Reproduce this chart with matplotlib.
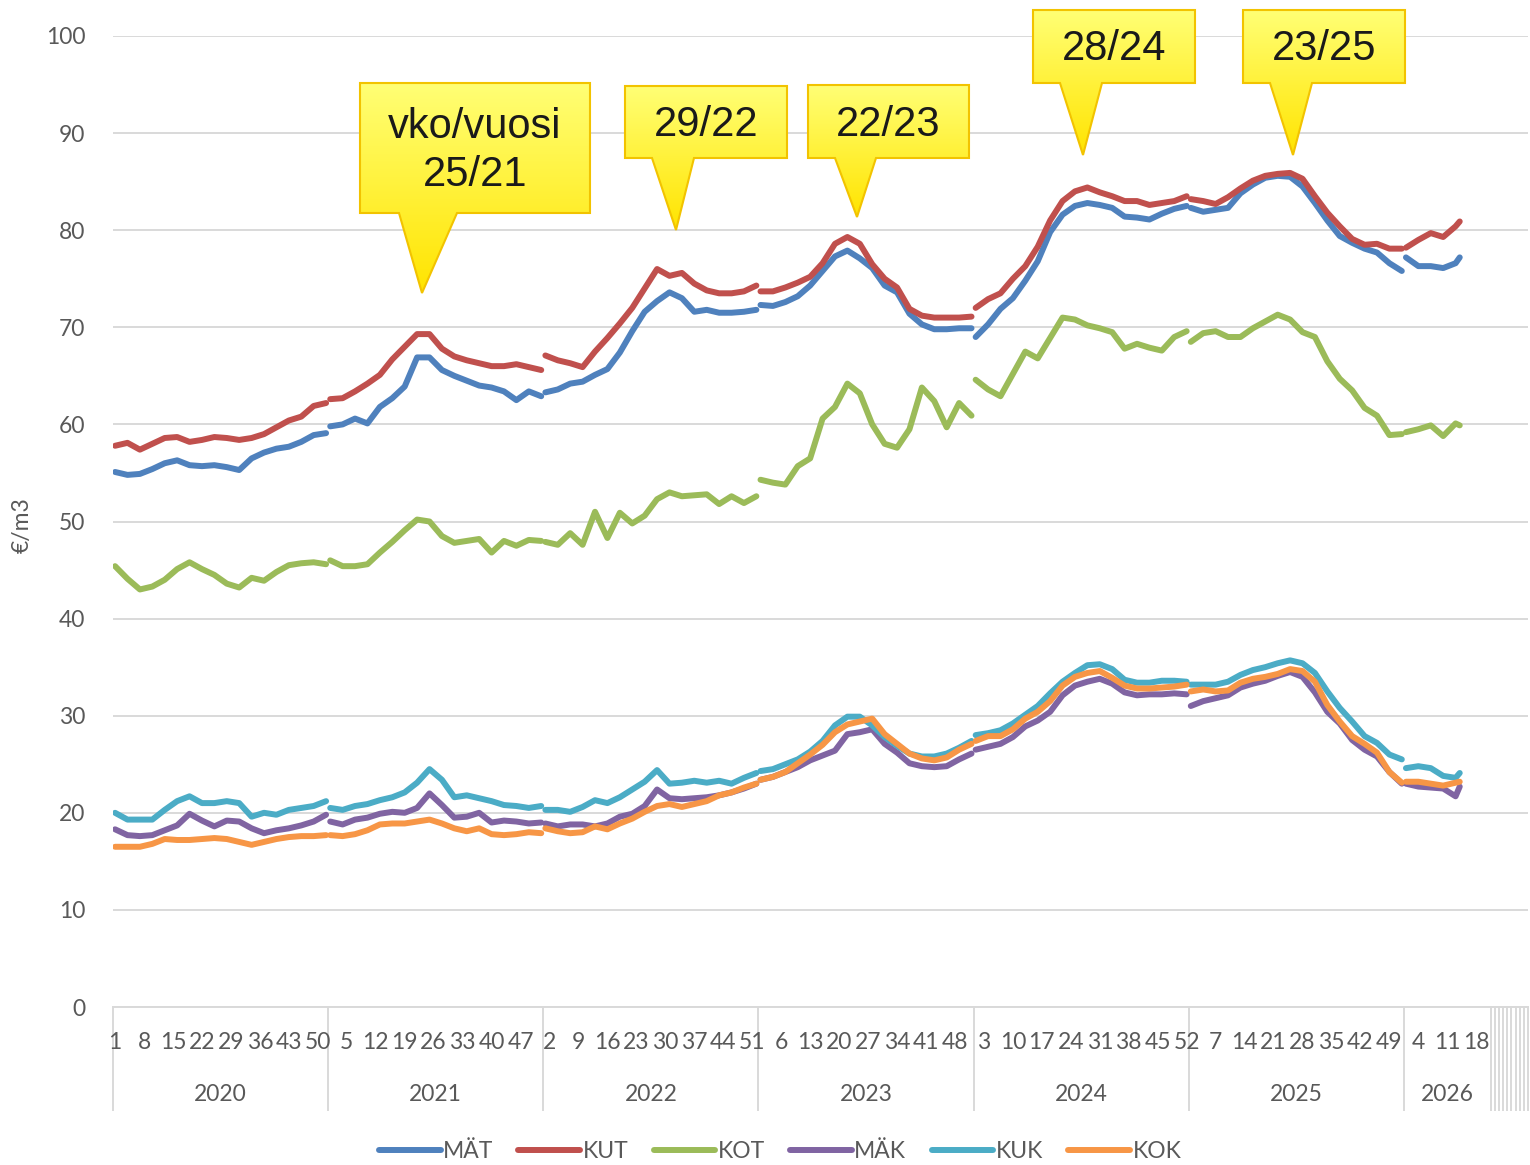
import matplotlib
matplotlib.use('Agg')
import numpy as np
import matplotlib.pyplot as plt
from matplotlib.lines import Line2D
from matplotlib.patches import Polygon
from matplotlib.colors import LinearSegmentedColormap

plt.rcParams['font.family'] = ['Lato', 'DejaVu Sans']

# --- data: weekly prices (€/m3), sampled every 3rd week, one list per year ---
YEARS = [2020, 2021, 2022, 2023, 2024, 2025, 2026]
WEEKS = list(range(1, 53, 3))          # 1, 4, ..., 52
WEEKS_LAST = [1, 4, 7, 10, 13, 14]     # 2026 so far
WEEKS_IN_YEAR = [52, 52, 52, 52, 52, 52, 21]
EMPTY_TAIL = 9                         # empty categories after 2026

MAT = [
    [55.1, 54.8, 54.9, 55.4, 56.0, 56.3, 55.8, 55.7, 55.8, 55.6, 55.3, 56.5, 57.1, 57.5, 57.7, 58.2, 58.9, 59.1],
    [59.8, 60.0, 60.6, 60.1, 61.8, 62.7, 63.9, 66.9, 66.9, 65.6, 65.0, 64.5, 64.0, 63.8, 63.4, 62.5, 63.4, 62.9],
    [63.3, 63.6, 64.2, 64.4, 65.1, 65.7, 67.4, 69.6, 71.6, 72.7, 73.6, 73.0, 71.6, 71.8, 71.5, 71.5, 71.6, 71.8],
    [72.3, 72.2, 72.6, 73.2, 74.3, 75.8, 77.3, 77.9, 77.1, 76.1, 74.3, 73.6, 71.4, 70.3, 69.8, 69.8, 69.9, 69.9],
    [69.0, 70.3, 71.9, 73.0, 74.8, 76.8, 79.8, 81.6, 82.5, 82.8, 82.6, 82.3, 81.4, 81.3, 81.1, 81.7, 82.2, 82.5],
    [82.3, 81.9, 82.1, 82.3, 83.8, 84.7, 85.4, 85.6, 85.5, 84.5, 82.8, 81.0, 79.4, 78.7, 78.1, 77.7, 76.6, 75.8],
    [77.2, 76.3, 76.3, 76.1, 76.6, 77.2],
]
KUT = [
    [57.8, 58.1, 57.4, 58.0, 58.6, 58.7, 58.2, 58.4, 58.7, 58.6, 58.4, 58.6, 59.0, 59.7, 60.4, 60.8, 61.9, 62.2],
    [62.6, 62.7, 63.4, 64.2, 65.1, 66.7, 68.0, 69.3, 69.3, 67.8, 67.0, 66.6, 66.3, 66.0, 66.0, 66.2, 65.9, 65.6],
    [67.1, 66.6, 66.3, 65.9, 67.5, 68.9, 70.4, 72.0, 74.0, 76.0, 75.3, 75.6, 74.5, 73.8, 73.5, 73.5, 73.7, 74.3],
    [73.7, 73.7, 74.1, 74.6, 75.2, 76.6, 78.6, 79.3, 78.6, 76.5, 75.0, 74.1, 71.9, 71.2, 71.0, 71.0, 71.0, 71.1],
    [72.0, 72.9, 73.5, 75.0, 76.3, 78.3, 81.0, 83.0, 84.0, 84.4, 83.9, 83.5, 83.0, 83.0, 82.6, 82.8, 83.0, 83.5],
    [83.2, 83.0, 82.7, 83.4, 84.3, 85.1, 85.6, 85.8, 85.9, 85.3, 83.5, 81.8, 80.4, 79.1, 78.5, 78.6, 78.1, 78.1],
    [78.2, 79.0, 79.7, 79.3, 80.4, 80.9],
]
KOT = [
    [45.4, 44.1, 43.0, 43.3, 44.0, 45.1, 45.8, 45.1, 44.5, 43.6, 43.2, 44.2, 43.9, 44.8, 45.5, 45.7, 45.8, 45.6],
    [46.0, 45.4, 45.4, 45.6, 46.8, 47.9, 49.1, 50.2, 50.0, 48.5, 47.8, 48.0, 48.2, 46.8, 48.0, 47.5, 48.1, 48.0],
    [47.9, 47.6, 48.8, 47.6, 51.0, 48.3, 50.9, 49.8, 50.6, 52.3, 53.0, 52.6, 52.7, 52.8, 51.8, 52.6, 51.9, 52.6],
    [54.3, 54.0, 53.8, 55.7, 56.5, 60.6, 61.8, 64.2, 63.2, 60.0, 58.0, 57.6, 59.5, 63.8, 62.4, 59.7, 62.2, 60.9],
    [64.6, 63.6, 62.9, 65.2, 67.5, 66.8, 68.9, 71.0, 70.8, 70.2, 69.9, 69.5, 67.8, 68.3, 67.9, 67.6, 69.0, 69.6],
    [68.5, 69.4, 69.6, 69.0, 69.0, 69.9, 70.6, 71.3, 70.8, 69.5, 69.0, 66.5, 64.7, 63.5, 61.7, 60.9, 58.9, 59.0],
    [59.2, 59.5, 59.9, 58.8, 60.1, 59.9],
]
MAK = [
    [18.3, 17.7, 17.6, 17.7, 18.2, 18.7, 19.9, 19.2, 18.6, 19.2, 19.1, 18.4, 17.9, 18.2, 18.4, 18.7, 19.1, 19.8],
    [19.1, 18.8, 19.3, 19.5, 19.9, 20.1, 20.0, 20.5, 22.0, 20.8, 19.5, 19.6, 20.0, 19.0, 19.2, 19.1, 18.9, 19.0],
    [18.9, 18.6, 18.8, 18.8, 18.6, 18.9, 19.6, 19.9, 20.7, 22.4, 21.5, 21.4, 21.5, 21.6, 21.8, 22.1, 22.5, 23.0],
    [23.4, 23.7, 24.2, 24.7, 25.4, 25.9, 26.4, 28.1, 28.3, 28.6, 27.1, 26.2, 25.1, 24.8, 24.7, 24.8, 25.5, 26.1],
    [26.5, 26.8, 27.1, 27.8, 28.9, 29.5, 30.4, 32.1, 33.1, 33.5, 33.8, 33.3, 32.4, 32.1, 32.2, 32.2, 32.3, 32.2],
    [31.0, 31.5, 31.8, 32.1, 32.9, 33.3, 33.6, 34.1, 34.5, 34.0, 32.4, 30.4, 29.2, 27.5, 26.5, 25.8, 24.2, 23.0],
    [23.0, 22.7, 22.6, 22.5, 21.7, 22.7],
]
KUK = [
    [20.0, 19.3, 19.3, 19.3, 20.3, 21.2, 21.7, 21.0, 21.0, 21.2, 21.0, 19.6, 20.0, 19.8, 20.3, 20.5, 20.7, 21.2],
    [20.5, 20.3, 20.7, 20.9, 21.3, 21.6, 22.1, 23.1, 24.5, 23.4, 21.6, 21.8, 21.5, 21.2, 20.8, 20.7, 20.5, 20.7],
    [20.3, 20.3, 20.1, 20.6, 21.3, 21.0, 21.6, 22.4, 23.2, 24.4, 23.0, 23.1, 23.3, 23.1, 23.3, 23.0, 23.6, 24.1],
    [24.3, 24.5, 25.0, 25.5, 26.3, 27.4, 29.0, 29.9, 29.9, 29.0, 27.8, 26.9, 26.1, 25.8, 25.8, 26.1, 26.7, 27.4],
    [28.0, 28.2, 28.5, 29.2, 30.1, 31.0, 32.3, 33.5, 34.4, 35.2, 35.3, 34.8, 33.7, 33.4, 33.4, 33.6, 33.6, 33.5],
    [33.2, 33.2, 33.2, 33.5, 34.2, 34.7, 35.0, 35.4, 35.7, 35.4, 34.4, 32.5, 30.8, 29.4, 27.9, 27.2, 26.0, 25.5],
    [24.6, 24.8, 24.6, 23.8, 23.6, 24.1],
]
KOK = [
    [16.5, 16.5, 16.5, 16.8, 17.3, 17.2, 17.2, 17.3, 17.4, 17.3, 17.0, 16.7, 17.0, 17.3, 17.5, 17.6, 17.6, 17.7],
    [17.7, 17.6, 17.8, 18.2, 18.8, 18.9, 18.9, 19.1, 19.3, 18.9, 18.4, 18.1, 18.4, 17.8, 17.7, 17.8, 18.0, 17.9],
    [18.4, 18.1, 17.9, 18.0, 18.6, 18.3, 18.9, 19.4, 20.1, 20.7, 20.9, 20.6, 20.9, 21.2, 21.8, 22.1, 22.6, 23.0],
    [23.4, 23.7, 24.2, 25.1, 26.0, 27.0, 28.3, 29.1, 29.4, 29.7, 28.1, 27.1, 26.1, 25.6, 25.4, 25.7, 26.5, 27.1],
    [27.4, 27.9, 27.9, 28.6, 29.7, 30.4, 31.5, 33.1, 34.0, 34.4, 34.6, 33.9, 33.1, 32.8, 32.8, 32.9, 33.0, 33.2],
    [32.5, 32.7, 32.5, 32.6, 33.4, 33.8, 34.0, 34.3, 34.8, 34.6, 33.5, 31.1, 29.4, 27.9, 27.1, 26.2, 24.2, 23.1],
    [23.2, 23.2, 23.0, 22.8, 23.1, 23.2],
]

SERIES = [('MÄT', MAT, '#4f81bd'), ('KUT', KUT, '#c0504d'), ('KOT', KOT, '#9bbb59'),
          ('MÄK', MAK, '#8064a2'), ('KUK', KUK, '#4bacc6'), ('KOK', KOK, '#f79646')]

# callouts: box (x0, y0, x1, y1), pointer base (b0, b1), tip (tx, ty), text -- figure pixels
CALLOUTS = [
    (360, 83, 590, 213, 399, 457, 422, 293, 'vko/vuosi\n25/21'),
    (625, 86, 787, 158, 652, 694, 676, 230, '29/22'),
    (808, 85, 969, 158, 835, 876, 857, 217, '22/23'),
    (1033, 10, 1195, 83, 1060, 1102, 1083, 155, '28/24'),
    (1243, 10, 1405, 83, 1270, 1312, 1293, 155, '23/25'),
]

W, H = 1530, 1165
GRID = '#d9d9d9'
TXT = '#595959'
LW = 4.3

fig = plt.figure(figsize=(W / 100, H / 100), dpi=100)
ax = fig.add_axes([113 / W, 1 - 1007 / H, (1528 - 113) / W, (1007 - 36) / H])

starts = np.cumsum([0] + WEEKS_IN_YEAR)
ncat = starts[-1] + EMPTY_TAIL

for name, data, color in SERIES:
    for k, vals in enumerate(data):
        weeks = WEEKS_LAST if k == len(YEARS) - 1 else WEEKS
        x = starts[k] + np.array(weeks) - 0.5
        ax.plot(x, vals, color=color, lw=LW, solid_capstyle='round',
                solid_joinstyle='round')

ax.set_xlim(0, ncat)
ax.set_ylim(0, 100)
ax.set_yticks(range(0, 101, 10))
ax.grid(axis='y', color=GRID, lw=1.4)
ax.set_axisbelow(True)
for s in ['left', 'right', 'top']:
    ax.spines[s].set_visible(False)
ax.spines['bottom'].set_color(GRID)
ax.spines['bottom'].set_linewidth(1.4)
ax.set_xticks([])
ax.tick_params(axis='y', length=0, pad=20, labelsize=16.5, labelcolor=TXT)

# category axis: week labels every 7th category, year groups below
tr = ax.get_xaxis_transform()
n_data = starts[-1]
for i in range(0, n_data, 7):
    k = np.searchsorted(starts, i, side='right') - 1
    wk = i - starts[k] + 1
    ax.text(i + 0.5, -0.037, str(wk), transform=tr, ha='center', va='center',
            fontsize=16.5, color=TXT)
for k, yr in enumerate(YEARS):
    ax.text((starts[k] + starts[k + 1]) / 2, -0.0906, str(yr), transform=tr,
            ha='center', va='center', fontsize=16.5, color=TXT)
seps = list(starts) + list(range(n_data + 1, ncat + 1))
for s in seps:
    ax.plot([s, s], [0, -0.106], transform=tr, color=GRID, lw=1.4, clip_on=False)

fig.text(22 / W, 1 - 525 / H, '€/m3', rotation=90, ha='center', va='center',
         fontsize=16.5, color=TXT)

handles = [Line2D([], [], color=c, lw=LW, solid_capstyle='round') for _, _, c in SERIES]
fig.legend(handles, [n for n, _, _ in SERIES], loc='center', ncol=6,
           bbox_to_anchor=(780 / W, 1 - 1152 / H), frameon=False, fontsize=16.5,
           labelcolor=TXT, handlelength=2.7, handletextpad=0.1, columnspacing=1.1)

# yellow callouts with vertical gradient
over = fig.add_axes([0, 0, 1, 1], zorder=5)
over.patch.set_alpha(0)
cmap = LinearSegmentedColormap.from_list('callout', ['#ffff75', '#ffe400'])
grad = np.linspace(0, 1, 128).reshape(-1, 1)
for x0, y0, x1, y1, b0, b1, tx, ty, label in CALLOUTS:
    pts = [(x0, y0), (x1, y0), (x1, y1), (b1, y1), (tx, ty), (b0, y1), (x0, y1)]
    poly = Polygon(pts, closed=True, fc='none', ec='#f2c300', lw=1.5, zorder=3)
    over.add_patch(poly)
    im = over.imshow(grad, cmap=cmap, extent=(x0, x1, ty, y0), aspect='auto',
                     origin='upper', zorder=2, interpolation='bilinear')
    im.set_clip_path(poly)
    over.text((x0 + x1) / 2, (y0 + y1) / 2 + 3, label, ha='center', va='center',
              fontsize=30, color='#1a1a1a', family=['Liberation Sans', 'DejaVu Sans'],
              linespacing=1.25, zorder=4)
over.set_xlim(0, W)
over.set_ylim(H, 0)
over.axis('off')

fig.savefig('out.png', dpi=100)
